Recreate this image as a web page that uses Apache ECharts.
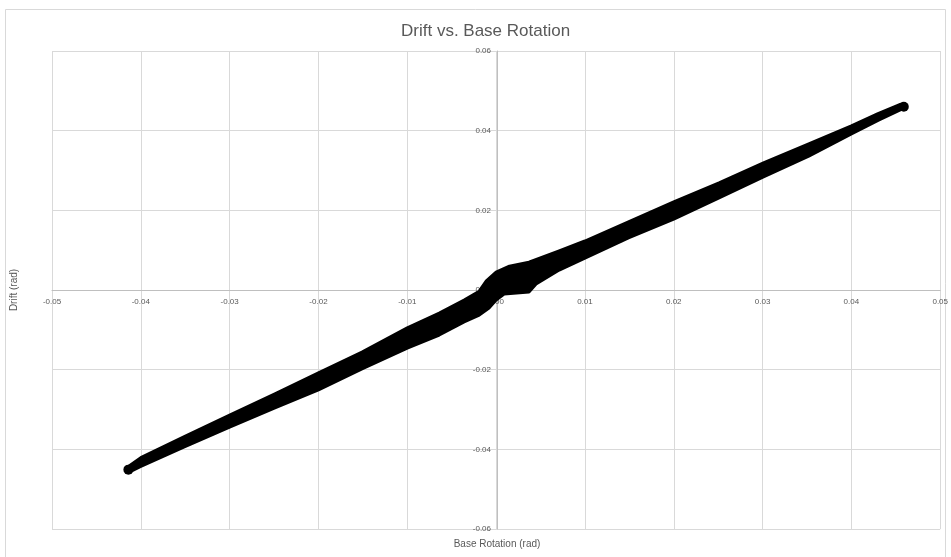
<!DOCTYPE html>
<html>
<head>
<meta charset="utf-8">
<script src="https://cdn.jsdelivr.net/npm/echarts@6/dist/echarts.min.js"></script>
<style>
  html, body { margin: 0; padding: 0; background: #fff; }
  #main { width: 951px; height: 557px; }
</style>
</head>
<body>
<div id="main"></div>
<script>
// edges of the scatter band (Base Rotation, Drift)
var upperEdge = [
  [-0.0414, -0.0443], [-0.0400, -0.0421], [-0.0351, -0.0368], [-0.0300, -0.0314],
  [-0.0249, -0.0261], [-0.0200, -0.0208], [-0.0151, -0.0156], [-0.0100, -0.0095],
  [-0.0064, -0.0058], [-0.0036, -0.0025], [-0.0019, -0.0003], [-0.0011, 0.0023],
  [0.0000, 0.0045], [0.0015, 0.0060], [0.0037, 0.0070], [0.0071, 0.0098],
  [0.0100, 0.0123], [0.0149, 0.0171], [0.0200, 0.0221], [0.0251, 0.0269],
  [0.0301, 0.0319], [0.0352, 0.0367], [0.0400, 0.0412], [0.0430, 0.0443],
  [0.0455, 0.0466]
];
var lowerEdge = [
  [-0.0412, -0.0456], [-0.0400, -0.0443], [-0.0351, -0.0394], [-0.0300, -0.0344],
  [-0.0249, -0.0296], [-0.0200, -0.0251], [-0.0151, -0.0198], [-0.0100, -0.0146],
  [-0.0064, -0.0113], [-0.0036, -0.0080], [-0.0019, -0.0063], [-0.0008, -0.0045],
  [0.0000, -0.0025], [0.0009, -0.0010], [0.0037, -0.0005], [0.0045, 0.0015],
  [0.0071, 0.0050], [0.0100, 0.0080], [0.0149, 0.0131], [0.0200, 0.0178],
  [0.0251, 0.0231], [0.0301, 0.0284], [0.0352, 0.0336], [0.0400, 0.0392],
  [0.0430, 0.0426], [0.0455, 0.0452]
];
// the two outermost points of the cloud
var endPoints = [[-0.0414, -0.0451], [0.0459, 0.0460]];

var gridColor = '#d9d9d9';
var textColor = '#595959';
var font = 'Liberation Sans Narrow, Arial Narrow, sans-serif';

var chart = echarts.init(document.getElementById('main'));
chart.setOption({
  backgroundColor: '#fff',
  animation: false,
  title: {
    text: 'Drift vs. Base Rotation',
    left: 396,
    top: 18,
    textStyle: { fontFamily: font, fontSize: 17, fontWeight: 'normal', color: textColor }
  },
  graphic: [
    { type: 'rect', shape: { x: 5.5, y: 9.5, width: 940, height: 560 },
      style: { fill: 'none', stroke: gridColor, lineWidth: 1 }, silent: true },
    { type: 'text', x: 497, y: 539,
      style: { text: 'Base Rotation (rad)', fill: textColor, font: '10px ' + font, textAlign: 'center' } },
    { type: 'text', x: 14, y: 290, rotation: Math.PI / 2,
      style: { text: 'Drift (rad)', fill: textColor, font: '10px ' + font, textAlign: 'center', textVerticalAlign: 'middle' } }
  ],
  grid: { left: 52, right: 9, top: 51, bottom: 28 },
  xAxis: {
    type: 'value', min: -0.05, max: 0.05, interval: 0.01,
    offset: -239,
    axisLine: { onZero: false, lineStyle: { color: '#bfbfbf' } },
    axisTick: { show: false },
    axisLabel: { color: textColor, fontSize: 8, fontFamily: font, margin: 8,
      formatter: function (v) { return v.toFixed(2); } },
    splitLine: { show: true, lineStyle: { color: gridColor } }
  },
  yAxis: {
    type: 'value', min: -0.06, max: 0.06, interval: 0.02,
    offset: -445,
    axisLine: { show: true, onZero: false, lineStyle: { color: '#bfbfbf' } },
    axisTick: { show: false },
    axisLabel: { color: textColor, fontSize: 8, fontFamily: font, margin: 6,
      formatter: function (v) { return v.toFixed(2); } },
    splitLine: { show: true, lineStyle: { color: gridColor } }
  },
  series: [{
    type: 'custom',
    data: [[0, 0]],
    renderItem: function (params, api) {
      var pts = upperEdge.concat(lowerEdge.slice().reverse()).map(function (p) {
        return api.coord(p);
      });
      return {
        type: 'polygon',
        shape: { points: pts },
        style: { fill: '#000', stroke: '#000', lineWidth: 3, lineJoin: 'round' }
      };
    }
  }, {
    type: 'scatter',
    data: endPoints,
    symbolSize: 10,
    itemStyle: { color: '#000', opacity: 1 }
  }]
});
</script>
</body>
</html>
